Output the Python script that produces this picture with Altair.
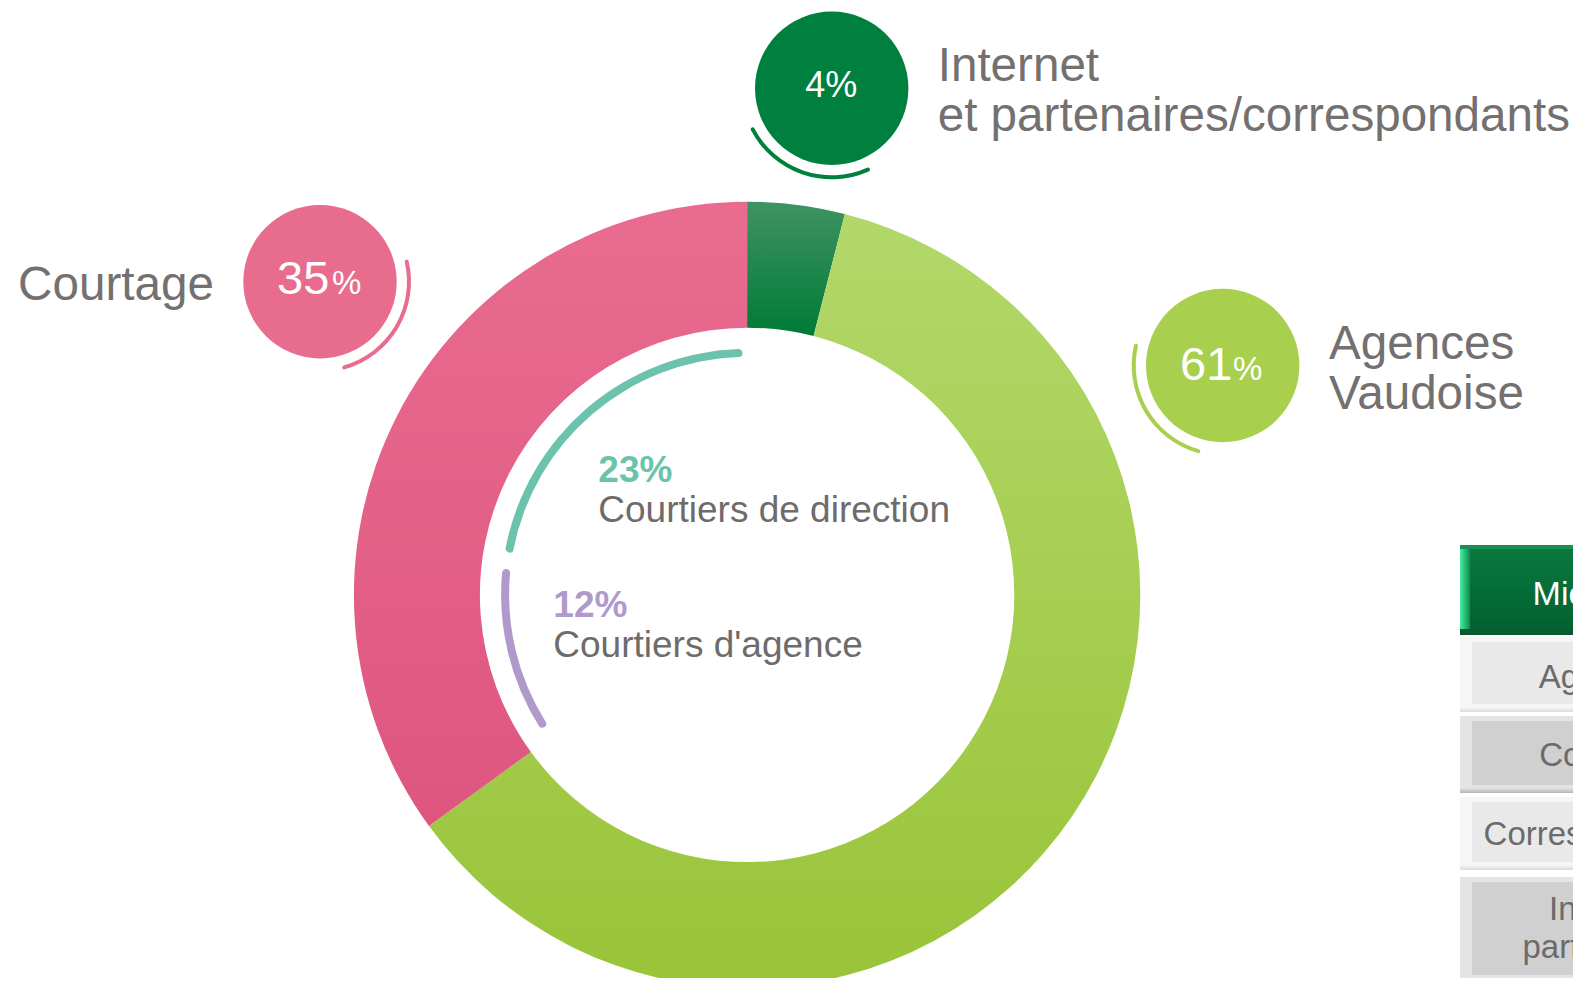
import math
import altair as alt
import pandas as pd

# ---------------- data ----------------
segments = ["Internet et partenaires/correspondants", "Agences Vaudoise", "Courtage"]
segment_labels = ["Internet\net partenaires/correspondants", "Agences\nVaudoise", "Courtage"]
shares = [4, 61, 35]
sub_segments = ["Courtiers d'agence", "Courtiers de direction"]
sub_shares = [12, 23]
table_header = "Mio CHF"
table_rows = ["Agences", "Courtage", "Correspondants", "Internet\npartenaires"]

# ---------------- layout / style ----------------
W, H = 1565, 970
FONT = "Liberation Sans"
GREY = "#747070"
TAU = 2 * math.pi
theta_scale = alt.Scale(domain=[0, 100], range=[0, TAU])
CX, CY = 739.1, 586.9
R_OUT, R_IN = 393.2, 267.2
R_SUB, SUB_W = 242, 8


def grad(c0, c1, horizontal=False):
    return alt.Gradient(
        gradient="linear",
        stops=[alt.GradientStop(color=c0, offset=0), alt.GradientStop(color=c1, offset=1)],
        x1=0, y1=0, x2=1 if horizontal else 0, y2=0 if horizontal else 1,
    )


donut_fills = [grad("#3F9362", "#007A36"), grad("#B2D86A", "#99C438"), grad("#E96C90", "#DE5680")]
bubble_colors = ["#00803E", "#A8CF4E", "#E86C8E"]

bubble_layout = [
    dict(c=(823.7, 80.3), arc=(154.7, 243.8), label=(929.7, 72.7),
         num=dict(x=823.3, y=88.7, size=36, align="center"), pct=None),
    dict(c=(1214.7, 357.5), arc=(194.6, 284.1), label=(1321.0, 351.0),
         num=dict(x=1172.0, y=371.5, size=47, align="left"), pct=dict(x=1225.0, size=33)),
    dict(c=(312.0, 273.7), arc=(75.7, 165.5), label=(10.1, 291.5),
         num=dict(x=269.0, y=285.7, size=47, align="left"), pct=dict(x=324.0, size=33)),
]
BUBBLE_R = 76.7

seg_df = pd.DataFrame({"segment": segments, "label": segment_labels,
                       "share": shares, "order": list(range(len(segments)))})
sub_df = pd.DataFrame({"sub": sub_segments, "share": sub_shares,
                       "order": list(range(len(sub_segments)))})

layers = []

# ---- donut ----
stacked = alt.Chart(seg_df).transform_stack(
    stack="share", groupby=[], as_=["s0", "s1"], sort=[alt.SortField("order")]
)
for i, seg in enumerate(segments):
    layers.append(
        stacked.transform_filter(alt.datum.segment == seg)
        .mark_arc(radius=R_OUT, radius2=R_IN, x=CX, y=CY, fill=donut_fills[i], clip=True)
        .encode(theta=alt.Theta("s0:Q", scale=theta_scale), theta2="s1:Q")
    )

# ---- inner sub arcs (split of Courtage) ----
base_offset = shares[0] + shares[1]
sub_colors = ["#B09ACB", "#6CC3AD"]
layers.append(
    alt.Chart(sub_df)
    .transform_stack(stack="share", groupby=[], as_=["s0", "s1"], sort=[alt.SortField("order")])
    .transform_calculate(a0=f"datum.s0 + {base_offset} + 0.8", a1=f"datum.s1 + {base_offset} - 0.3")
    .mark_arc(radius=R_SUB + SUB_W / 2, radius2=R_SUB - SUB_W / 2, cornerRadius=SUB_W / 2, x=CX, y=CY)
    .encode(
        theta=alt.Theta("a0:Q", scale=theta_scale),
        theta2="a1:Q",
        color=alt.Color("sub:N", scale=alt.Scale(domain=sub_segments, range=sub_colors), legend=None),
    )
)

sub_text_pos = [dict(x=545.3, y=608.7), dict(x=590.3, y=473.7)]
for j, sub in enumerate(sub_segments):
    base = alt.Chart(sub_df).transform_filter(alt.datum.sub == sub)
    p = sub_text_pos[j]
    layers.append(
        base.transform_calculate(t="datum.share + '%'")
        .mark_text(x=p["x"], y=p["y"], align="left", baseline="alphabetic", font=FONT,
                   fontSize=37, fontWeight="bold", color=sub_colors[j])
        .encode(text="t:N")
    )
    layers.append(
        base.mark_text(x=p["x"], y=p["y"] + 40, align="left", baseline="alphabetic", font=FONT,
                       fontSize=37, color="#6E6B6B")
        .encode(text="sub:N")
    )

# ---- bubbles ----
for i, seg in enumerate(segments):
    L = bubble_layout[i]
    base = alt.Chart(seg_df).transform_filter(alt.datum.segment == seg)
    bx, by = L["c"]
    layers.append(
        base.mark_arc(x=bx, y=by, radius=BUBBLE_R, theta=0, theta2=TAU, fill=bubble_colors[i])
        .encode(opacity=alt.value(1))
    )
    a0, a1 = L["arc"]
    layers.append(
        base.mark_arc(x=bx, y=by, radius=91, radius2=87, cornerRadius=2,
                      theta=math.radians(a0), theta2=math.radians(a1), fill=bubble_colors[i])
        .encode(opacity=alt.value(1))
    )
    n = L["num"]
    if L["pct"] is None:
        layers.append(
            base.transform_calculate(t="datum.share + '%'")
            .mark_text(x=n["x"], y=n["y"], align=n["align"], baseline="alphabetic", font=FONT,
                       fontSize=n["size"], color="white")
            .encode(text="t:N")
        )
    else:
        layers.append(
            base.transform_calculate(t="'' + datum.share")
            .mark_text(x=n["x"], y=n["y"], align="left", baseline="alphabetic", font=FONT,
                       fontSize=n["size"], color="white")
            .encode(text="t:N")
        )
        layers.append(
            base.transform_calculate(t="'%'")
            .mark_text(x=L["pct"]["x"], y=n["y"], align="left", baseline="alphabetic", font=FONT,
                       fontSize=L["pct"]["size"], color="white")
            .encode(text="t:N")
        )
    lx, ly = L["label"]
    layers.append(
        base.mark_text(x=lx, y=ly, align="left", baseline="alphabetic", font=FONT, fontSize=47.6,
                       lineBreak="\n", lineHeight=50, color=GREY, clip=True)
        .encode(text="label:N")
    )

# ---- partial table at right (cut by the page edge) ----
tab_df = pd.DataFrame({"row": [table_header] + table_rows})
TX0, TX1 = 1452, 1600
TCX = 1597

def rect(y0, y1, x0, x1, fill):
    return (alt.Chart(tab_df.head(1)).mark_rect(fill=fill, clip=True)
            .encode(x=alt.value(x0), x2=alt.value(x1), y=alt.value(y0), y2=alt.value(y1)))

# header
layers.append(rect(537, 627, TX0, TX1, grad("#0B7A40", "#01602F")))
layers.append(rect(537, 627, TX0, TX0 + 10, grad("#46EDA6", "#0F8A4C", horizontal=True)))
layers.append(rect(537, 541, TX0, TX1, "#1B8E55"))
layers.append(rect(621, 627, TX0, TX1, "#0A5A2F"))

row_specs = [
    dict(y0=629, y1=704, light=True, ty=680, x=TCX - 2),
    dict(y0=708, y1=785, light=False, ty=758, x=TCX + 2),
    dict(y0=789, y1=862, light=True, ty=837, x=TCX - 4),
    dict(y0=869, y1=975, light=False, ty=912, x=TCX),
]
for k, spec in enumerate(row_specs):
    if spec["light"]:
        rim, face, shadow = "#F6F6F6", "#E9E9E9", "#DCDCDC"
    else:
        rim, face, shadow = "#E4E4E4", "#D0D0D0", "#B4B4B4"
    layers.append(rect(spec["y0"], spec["y1"], TX0, TX1, rim))
    layers.append(rect(spec["y0"] + 5, spec["y1"] - 8, TX0 + 12, TX1, face))
    layers.append(rect(spec["y1"] - 5, spec["y1"], TX0, TX1, grad(rim, shadow)))

layers.append(
    alt.Chart(tab_df).transform_filter(alt.datum.row == table_header)
    .mark_text(x=1524.6, y=597, align="left", baseline="alphabetic", font=FONT, fontSize=34,
               color="white", clip=True)
    .encode(text="row:N")
)
for k, name in enumerate(table_rows):
    layers.append(
        alt.Chart(tab_df).transform_filter(alt.datum.row == name)
        .mark_text(x=row_specs[k]["x"], y=row_specs[k]["ty"], align="center", baseline="alphabetic",
                   font=FONT, fontSize=33, lineBreak="\n", lineHeight=38, color="#6B6B6B", clip=True)
        .encode(text="row:N")
    )

chart = (
    alt.layer(*layers)
    .properties(width=W, height=H, padding=0, background="white",
                autosize=alt.AutoSizeParams(type="fit", contains="padding"))
    .configure_view(strokeWidth=0)
)

chart.save("out.html", embed_options={"renderer": "svg", "actions": False})
